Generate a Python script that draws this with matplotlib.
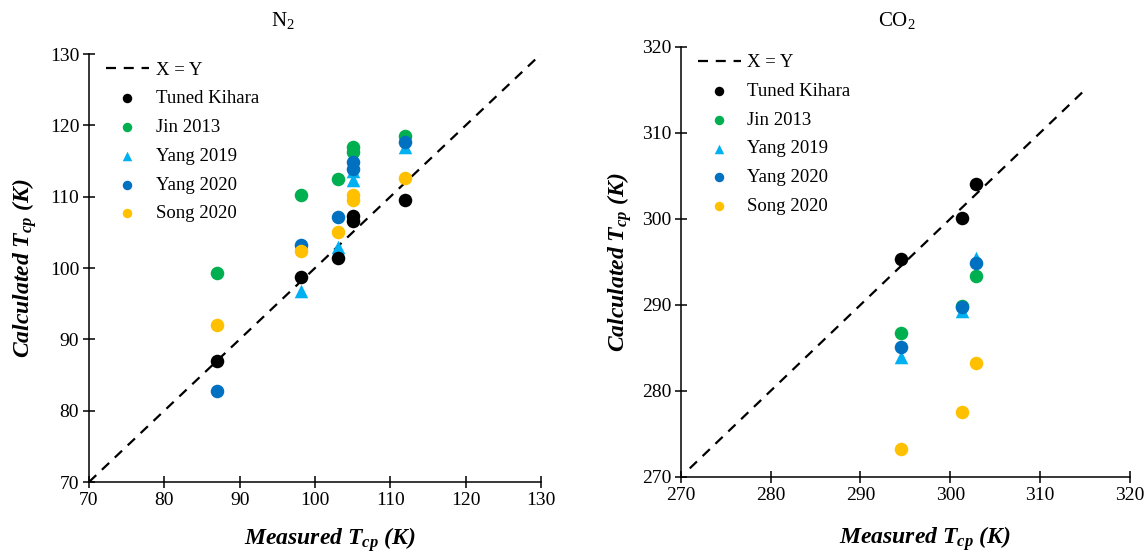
import matplotlib
matplotlib.use('Agg')
import matplotlib.pyplot as plt
import numpy as np

plt.rcParams['font.family'] = ['Liberation Serif', 'DejaVu Serif']
plt.rcParams['mathtext.fontset'] = 'custom'
plt.rcParams['mathtext.rm'] = 'Liberation Serif'
plt.rcParams['mathtext.it'] = 'Liberation Serif:italic:bold'

# N2 临界温度 (K)
n2_measured = [87.0, 98.1, 103.0, 105.0, 105.0, 111.9]
n2_tuned = [87.0, 98.7, 101.4, 107.3, 106.6, 109.6]
n2_jin2013 = [99.3, 110.2, 112.5, 116.9, 116.2, 118.5]
n2_yang2019 = [np.nan, 96.8, 103.0, 112.3, 113.6, 116.9]
n2_yang2020 = [82.8, 103.2, 107.2, 114.9, 113.9, 117.6]
n2_song2020 = [92.0, 102.4, 105.0, 110.3, 109.5, 112.6]

# CO2 临界温度 (K)
co2_measured = [294.5, 301.3, 302.9]
co2_tuned = [295.3, 300.1, 304.1]
co2_jin2013 = [286.7, 289.9, 293.3]
co2_yang2019 = [283.9, 289.3, 295.5]
co2_yang2020 = [285.1, 289.7, 294.9]
co2_song2020 = [273.3, 277.6, 283.3]

n2_ticks = [70, 80, 90, 100, 110, 120, 130]
co2_ticks = [270, 280, 290, 300, 310, 320]

colors = {'Tuned Kihara': 'black', 'Jin 2013': '#00B050', 'Yang 2019': '#00B0F0',
          'Yang 2020': '#0070C0', 'Song 2020': '#FFC000'}


def draw(ax, x, series, ticks, line_range):
    ax.plot(line_range, line_range, 'k--', lw=1.6, dashes=(4.5, 3.5), label='X = Y', zorder=1)
    handles = [ax.lines[0]]
    order = {'Jin 2013': 2, 'Yang 2019': 3, 'Yang 2020': 4, 'Song 2020': 5, 'Tuned Kihara': 6}
    for name, y in series:
        marker = '^' if name == 'Yang 2019' else 'o'
        h = ax.scatter(x, y, s=95, marker=marker, color=colors[name], label=name,
                       zorder=order[name], linewidths=0)
        handles.append(h)
    ax.set_xlim(ticks[0], ticks[-1])
    ax.set_ylim(ticks[0], ticks[-1])
    ax.set_xticks(ticks)
    ax.set_yticks(ticks)
    for s in ['top', 'right']:
        ax.spines[s].set_visible(False)
    for s in ['left', 'bottom']:
        ax.spines[s].set_linewidth(1.1)
    ax.tick_params(direction='inout', length=8, width=1.1, labelsize=14, pad=3)
    ax.set_xlabel('Measured $T_{cp}$ (K)', fontsize=17, fontweight='bold', style='italic')
    ax.set_ylabel('Calculated $T_{cp}$ (K)', fontsize=17, fontweight='bold', style='italic')
    ax.legend(handles=handles, loc='upper left', bbox_to_anchor=(0.0, 1.022), frameon=False,
              fontsize=13.5, markerscale=0.7, handlelength=2.3, handletextpad=0.35,
              labelspacing=0.62)


fig = plt.figure(figsize=(11.48, 5.58), dpi=100)
ax1 = fig.add_axes([0.0775, 0.1362, 0.3938, 0.767])
ax2 = fig.add_axes([0.593, 0.1452, 0.3913, 0.7711])

draw(ax1, n2_measured,
     [('Tuned Kihara', n2_tuned), ('Jin 2013', n2_jin2013), ('Yang 2019', n2_yang2019),
      ('Yang 2020', n2_yang2020), ('Song 2020', n2_song2020)],
     n2_ticks, [70, 130])
draw(ax2, co2_measured,
     [('Tuned Kihara', co2_tuned), ('Jin 2013', co2_jin2013), ('Yang 2019', co2_yang2019),
      ('Yang 2020', co2_yang2020), ('Song 2020', co2_song2020)],
     co2_ticks, [271, 315])

ax1.xaxis.set_label_coords(0.533, -0.1)
ax2.xaxis.set_label_coords(0.544, -0.11)
ax1.yaxis.set_label_coords(-0.11, 0.5)
ax2.yaxis.set_label_coords(-0.105, 0.5)

fig.text(0.2465, 0.964, r'N$_\mathrm{2}$', ha='center', va='center', fontsize=15)
fig.text(0.781, 0.964, r'CO$_\mathrm{2}$', ha='center', va='center', fontsize=15)

plt.savefig('out.png', dpi=100)
